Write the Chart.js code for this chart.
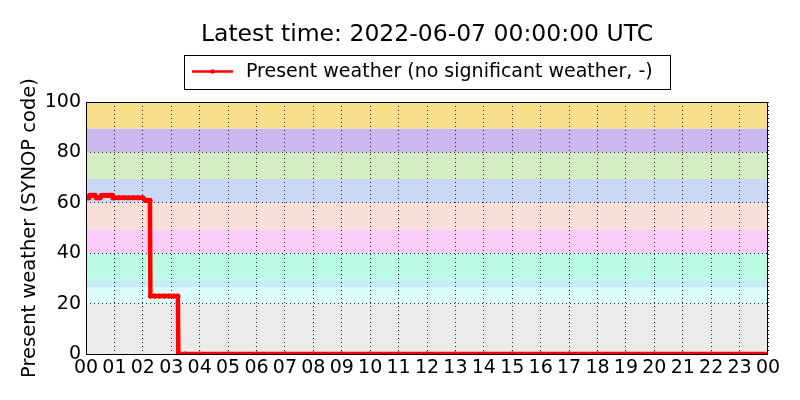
<!DOCTYPE html>
<html>
<head>
<meta charset="utf-8">
<script src="https://cdn.jsdelivr.net/npm/chart.js@4"></script>
<style>
  body { margin: 0; background: #fff; }
</style>
</head>
<body>
<canvas id="chartWx" width="800" height="400"></canvas>
<script>
// time of each observation, minutes after 00 UTC
const obsMinutes = [0, 3, 6, 8, 11, 14, 17, 19, 22, 26, 30, 33, 37, 41, 45, 49, 52, 55, 57, 60,
  70, 80, 90, 100, 110, 120, 125, 130, 135, 136, 145, 155, 165, 175, 185, 194, 195,
  210, 240, 300, 360, 420, 480, 540, 600, 660, 720, 780, 840, 900, 960, 1020, 1080, 1140, 1200,
  1260, 1320, 1380, 1440];
// present weather SYNOP code
const presentWeather = [62, 62, 62, 63, 63, 63, 63, 63, 62, 62, 62, 63, 63, 63, 63, 63, 63, 63, 62, 62,
  62, 62, 62, 62, 62, 62, 61, 61, 61, 23, 23, 23, 23, 23, 23, 23, 0,
  0, 0, 0, 0, 0, 0, 0, 0, 0, 0, 0, 0, 0, 0, 0, 0, 0, 0,
  0, 0, 0, 0];
const hourTicks = ["00", "01", "02", "03", "04", "05", "06", "07", "08", "09", "10", "11", "12",
  "13", "14", "15", "16", "17", "18", "19", "20", "21", "22", "23", "00"];
const yTicks = [0, 20, 40, 60, 80, 100];

// code ranges shaded behind the data
const bandEdges = [0, 20, 26.5, 29.5, 40, 49.5, 60, 69.5, 80, 89.5, 100];
const bandColors = ["#ebebeb", "#dcfcfc", "#c6ecf4", "#bcfce4", "#f9ccf9", "#f8e0d8",
  "#c9d8f5", "#d4ecc1", "#c9b9ee", "#f8df8b"];

const titleText = "Latest time: 2022-06-07 00:00:00 UTC";
const legendText = "Present weather (no significant weather, -)";
const yLabel = "Present weather (SYNOP code)";
const FONT = "'DejaVu Sans', sans-serif";

const decor = {
  id: "decor",
  beforeDraw(chart) {
    const { ctx, chartArea: a, scales: { y } } = chart;
    ctx.save();
    for (let i = 0; i < bandColors.length; i++) {
      const top = y.getPixelForValue(bandEdges[i + 1]);
      const bot = y.getPixelForValue(bandEdges[i]);
      ctx.fillStyle = bandColors[i];
      ctx.fillRect(a.left, top, a.right - a.left, bot - top);
    }
    ctx.restore();
  },
  afterDraw(chart) {
    const { ctx, chartArea: a } = chart;
    ctx.save();
    ctx.strokeStyle = "#000";
    ctx.lineWidth = 1;
    ctx.strokeRect(a.left + 0.5, a.top + 0.5, a.right - a.left - 1, a.bottom - a.top);

    // title
    ctx.fillStyle = "#000";
    ctx.font = "23.5px " + FONT;
    ctx.textAlign = "center";
    ctx.textBaseline = "middle";
    ctx.fillText(titleText, (a.left + a.right) / 2, 35);

    // legend
    ctx.strokeRect(184.5, 55.5, 486, 34);
    ctx.strokeStyle = "red";
    ctx.lineWidth = 2.5;
    ctx.beginPath();
    ctx.moveTo(192, 71.5);
    ctx.lineTo(233, 71.5);
    ctx.stroke();
    ctx.fillStyle = "red";
    ctx.beginPath();
    ctx.arc(212.5, 71.5, 2.2, 0, Math.PI * 2);
    ctx.fill();
    ctx.fillStyle = "#000";
    ctx.font = "19px " + FONT;
    ctx.textAlign = "left";
    ctx.fillText(legendText, 246, 72);

    // y axis label
    ctx.font = "19.5px " + FONT;
    ctx.translate(30, (a.top + a.bottom) / 2);
    ctx.rotate(-Math.PI / 2);
    ctx.textAlign = "center";
    ctx.fillText(yLabel, 0, 0);
    ctx.restore();
  }
};

new Chart(document.getElementById("chartWx"), {
  type: "line",
  data: {
    datasets: [{
      label: legendText,
      data: obsMinutes.map((m, i) => ({ x: m / 60, y: presentWeather[i] })),
      borderColor: "red",
      backgroundColor: "red",
      borderWidth: 4.5,
      borderJoinStyle: "round",
      pointRadius: 2.6,
      pointBorderWidth: 0,
      tension: 0,
      clip: 0
    }]
  },
  options: {
    responsive: false,
    animation: false,
    devicePixelRatio: 1,
    layout: { padding: { top: 102, right: 32, left: 0, bottom: 0 } },
    plugins: { legend: { display: false }, title: { display: false }, tooltip: { enabled: false } },
    scales: {
      x: {
        type: "linear",
        min: 0,
        max: 24,
        afterFit: s => { s.height = 46; },
        afterBuildTicks: s => { s.ticks = hourTicks.map((t, i) => ({ value: i })); },
        ticks: {
          callback: (v, i) => hourTicks[i],
          color: "#000",
          font: { family: FONT, size: 19 },
          padding: 3,
          maxRotation: 0,
          autoSkip: false
        },
        grid: { color: "rgba(0,0,0,0.85)", drawTicks: false },
        border: { display: false, dash: [1, 3] }
      },
      y: {
        min: 0,
        max: 100,
        afterFit: s => { s.width = 86; },
        afterBuildTicks: s => { s.ticks = yTicks.map(v => ({ value: v })); },
        ticks: {
          color: "#000",
          font: { family: FONT, size: 19 },
          padding: 5
        },
        grid: { color: "rgba(0,0,0,0.85)", drawTicks: false },
        border: { display: false, dash: [1, 3] }
      }
    }
  },
  plugins: [decor]
});
</script>
</body>
</html>
